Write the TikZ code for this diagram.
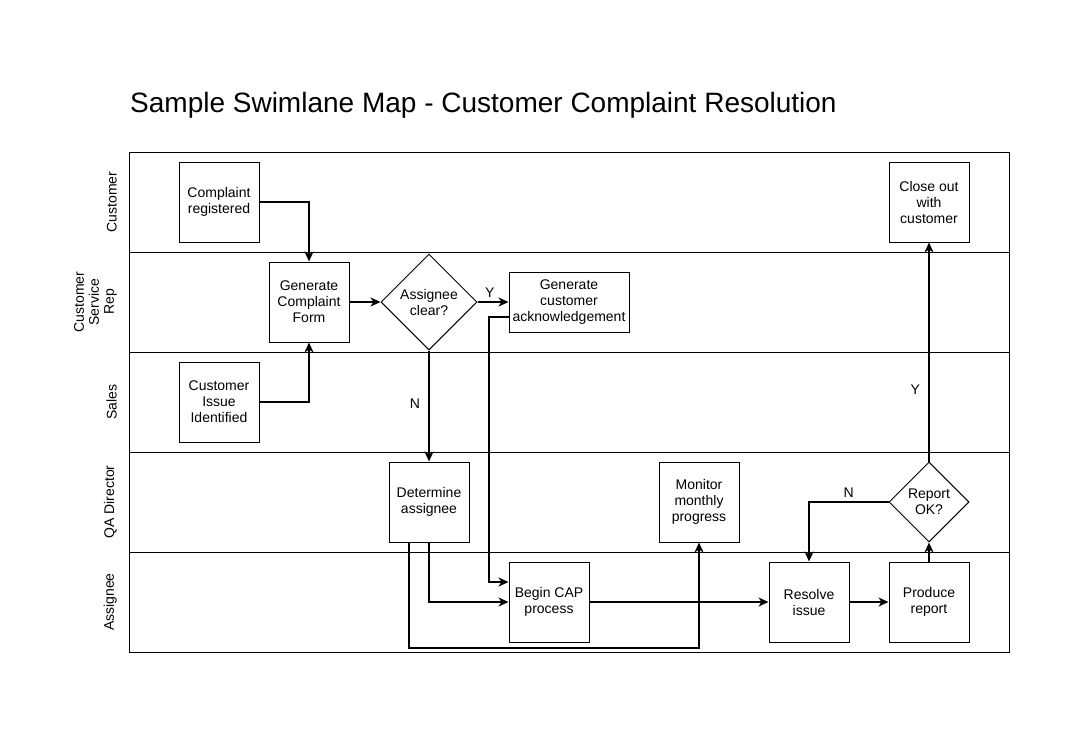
\documentclass[tikz,border=0pt]{standalone}
\usepackage{fontspec}
\setmainfont{Liberation Sans}
\usetikzlibrary{arrows.meta,shapes.geometric}
\begin{document}
\begin{tikzpicture}[x=1pt,y=-1pt,
  box/.style={draw, line width=1pt, minimum width=80pt, minimum height=80pt, align=center, inner sep=0pt, font=\fontsize{14}{16}\selectfont},
  dia/.style={draw, diamond, line width=1pt, minimum width=96pt, minimum height=96pt, align=center, inner sep=0pt, font=\fontsize{14}{16}\selectfont},
  conn/.style={line width=2pt, -{Stealth[length=10pt,width=9pt,inset=3pt]}},
  lane/.style={line width=1pt},
  lanelabel/.style={rotate=90, anchor=south, align=center, inner sep=0pt, font=\fontsize{14}{15}\selectfont},
  lbl/.style={font=\fontsize{14}{16}\selectfont, inner sep=0pt}]
\useasboundingbox (0,0) rectangle (1086,732);
\fill[white] (0,0) rectangle (1086,732);
% title
\node[anchor=base west, inner sep=0pt, font=\fontsize{28}{32}\selectfont] (title) at (130,112) {Sample Swimlane Map - Customer Complaint Resolution};
% lanes
\draw[lane] (129,152) rectangle (1009,652);
\draw[lane] (129,252) -- (1009,252);
\draw[lane] (129,352) -- (1009,352);
\draw[lane] (129,452) -- (1009,452);
\draw[lane] (129,552) -- (1009,552);
\node[lanelabel] (l1) at (117,202) {Customer};
\node[lanelabel] (l2) at (117,302) {Customer\\Service\\Rep};
\node[lanelabel] (l3) at (117,402) {Sales};
\node[lanelabel] (l4) at (117,502) {QA Director};
\node[lanelabel] (l5) at (117,602) {Assignee};
% nodes
\node[box] (cr) at (219,202) {Complaint\\registered};
\node[box] (gcf) at (309,302) {Generate\\Complaint\\Form};
\node[dia] (ac) at (429,302) {Assignee\\clear?};
\node[box, minimum width=120pt, minimum height=60pt] (gca) at (569,302) {Generate\\customer\\acknowledgement};
\node[box] (cii) at (219,402) {Customer\\Issue\\Identified};
\node[box] (da) at (429,502) {Determine\\assignee};
\node[box] (mmp) at (699,502) {Monitor\\monthly\\progress};
\node[dia, minimum width=80pt, minimum height=80pt] (rok) at (929,502) {Report\\OK?};
\node[box] (co) at (929,202) {Close out\\with\\customer};
\node[box] (bcap) at (549,602) {Begin CAP\\process};
\node[box] (ri) at (809,602) {Resolve\\issue};
\node[box] (pr) at (929,602) {Produce\\report};
% connectors
\draw[conn] (cr.east) -| (gcf.north);
\draw[conn] (cii.east) -| (gcf.south);
\draw[conn] (gcf.east) -- (ac.west);
\draw[conn] (ac.east) -- node[lbl, above=4pt, pos=0.4] {Y} (gca.west);
\draw[conn] (ac.south) -- node[lbl, left=8pt, pos=0.48] {N} (da.north);
\draw[conn] ([yshift=-15pt]gca.west) -- ++(-20,0) |- ([yshift=20pt]bcap.west);
\draw[conn] (da.south) |- (bcap.west);
\draw[conn] ([xshift=-20pt]da.south) -- ++(0,105) -| (mmp.south);
\draw[conn] (bcap.east) -- (ri.west);
\draw[conn] (ri.east) -- (pr.west);
\draw[conn] (pr.north) -- (rok.south);
\draw[conn] (rok.west) -| node[lbl, above=4pt, pos=0.25] {N} (ri.north);
\draw[conn] (rok.north) -- node[lbl, left=8pt, pos=0.33] {Y} (co.south);
\end{tikzpicture}
\end{document}
